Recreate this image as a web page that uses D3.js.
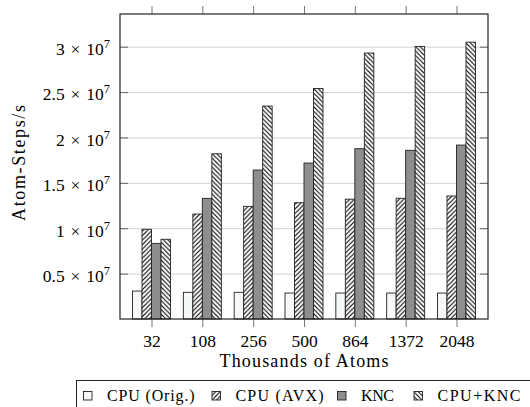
<!DOCTYPE html>
<html>
<head>
<meta charset="utf-8">
<script src="https://cdn.jsdelivr.net/npm/d3@7"></script>
<style>
body { margin: 0; background: #fff; }
</style>
</head>
<body>
<svg id="chart" width="530" height="407"></svg>
<script>
// data
var atoms = ["32", "108", "256", "500", "864", "1372", "2048"];
var cpuOrig = [3.08e6, 2.94e6, 2.94e6, 2.86e6, 2.86e6, 2.86e6, 2.86e6];
var cpuAvx  = [9.88e6, 1.156e7, 1.241e7, 1.281e7, 1.32e7, 1.33e7, 1.355e7];
var knc     = [8.33e6, 1.329e7, 1.641e7, 1.718e7, 1.876e7, 1.858e7, 1.916e7];
var cpuKnc  = [8.78e6, 1.82e7, 2.346e7, 2.54e7, 2.93e7, 3.003e7, 3.05e7];
var seriesNames = ["CPU (Orig.)", "CPU (AVX)", "KNC", "CPU+KNC"];
var yTicks = [0.5e7, 1e7, 1.5e7, 2e7, 2.5e7, 3e7];
var yTickMantissa = ["0.5", "1", "1.5", "2", "2.5", "3"];

var serif = "Liberation Serif";

function renderChart() {
    var left = 120, right = 488, top = 14, bottom = 319;
    var barWidth = 9.5;
    var series = [cpuOrig, cpuAvx, knc, cpuKnc];
    var fills = ["#f6f8f8", "url(#neLines)", "#8e8e8e", "url(#nwLines)"];

    var svg = d3.select("#chart");

    // hatch patterns
    var defs = svg.append("defs");
    var ne = defs.append("pattern").attr("id", "neLines")
        .attr("patternUnits", "userSpaceOnUse").attr("width", 4.5).attr("height", 4.5);
    ne.append("rect").attr("width", 4.5).attr("height", 4.5).attr("fill", "#fff");
    ne.append("path").attr("d", "M-1,1 l2,-2 M0,4.5 l4.5,-4.5 M3.5,5.5 l2,-2")
        .attr("stroke", "#000").attr("stroke-width", 1.1);
    var nw = defs.append("pattern").attr("id", "nwLines")
        .attr("patternUnits", "userSpaceOnUse").attr("width", 4.5).attr("height", 4.5);
    nw.append("rect").attr("width", 4.5).attr("height", 4.5).attr("fill", "#fff");
    nw.append("path").attr("d", "M-1,3.5 l2,2 M0,0 l4.5,4.5 M3.5,-1 l2,2")
        .attr("stroke", "#000").attr("stroke-width", 1.1);

    var x = d3.scaleLinear().domain([-0.62, atoms.length - 1 + 0.62]).range([left, right]);
    var y = d3.scaleLinear().domain([0, 3.36e7]).range([bottom, top]);

    // grid lines
    svg.append("g")
        .attr("transform", "translate(" + left + ",0)")
        .call(d3.axisLeft(y).tickValues(yTicks).tickSize(-(right - left)).tickFormat(""))
        .call(function(g) {
            g.select(".domain").remove();
            g.selectAll("line").attr("stroke", "#d2d2d2").attr("stroke-width", 1);
        });

    // bars
    series.forEach(function(vals, s) {
        svg.append("g").selectAll("rect")
            .data(vals)
            .enter()
            .append("rect")
            .attr("x", function(d, i) { return x(i) + (s - 2) * barWidth; })
            .attr("y", function(d) { return y(d); })
            .attr("width", barWidth)
            .attr("height", function(d) { return y(0) - y(d); })
            .attr("fill", fills[s])
            .attr("stroke", "#222")
            .attr("stroke-width", 0.9);
    });

    // inner y ticks on both sides
    svg.append("g")
        .attr("transform", "translate(" + left + ",0)")
        .call(d3.axisLeft(y).tickValues(yTicks).tickSize(-8).tickFormat(""))
        .call(function(g) {
            g.select(".domain").remove();
            g.selectAll("line").attr("stroke", "#666");
        });
    svg.append("g")
        .attr("transform", "translate(" + right + ",0)")
        .call(d3.axisRight(y).tickValues(yTicks).tickSize(-8).tickFormat(""))
        .call(function(g) {
            g.select(".domain").remove();
            g.selectAll("line").attr("stroke", "#666");
        });

    // x ticks outside, top and bottom
    var xTickVals = d3.range(atoms.length);
    svg.append("g")
        .attr("transform", "translate(0," + bottom + ")")
        .call(d3.axisBottom(x).tickValues(xTickVals).tickSize(8).tickPadding(9)
            .tickFormat(function(i) { return atoms[i]; }))
        .call(function(g) {
            g.attr("font-family", null).attr("font-size", null);
            g.select(".domain").remove();
            g.selectAll("line").attr("stroke", "#777");
            g.selectAll("text")
                .attr("font-family", serif).attr("font-size", 17.5)
                .attr("fill", "#000").attr("dy", null).attr("y", 28);
        });
    svg.append("g")
        .attr("transform", "translate(0," + top + ")")
        .call(d3.axisTop(x).tickValues(xTickVals).tickSize(8).tickFormat(""))
        .call(function(g) {
            g.select(".domain").remove();
            g.selectAll("line").attr("stroke", "#777");
        });

    // y tick labels  m x 10^7
    var lab = svg.append("g").selectAll("text")
        .data(yTicks)
        .enter()
        .append("text")
        .attr("x", 110)
        .attr("y", function(d) { return y(d) + 8.3; })
        .attr("text-anchor", "end")
        .attr("font-family", serif)
        .attr("font-size", 17.5);
    lab.append("tspan").text(function(d, i) { return yTickMantissa[i] + "\u2004\u00d7\u200410"; });
    lab.append("tspan").attr("dy", -7).attr("font-size", 12.5).text("7");

    // frame
    svg.append("rect")
        .attr("x", left).attr("y", top)
        .attr("width", right - left).attr("height", bottom - top)
        .attr("fill", "none").attr("stroke", "#222").attr("stroke-width", 1.2);

    // axis titles
    svg.append("text")
        .attr("x", (left + right) / 2).attr("y", 366.5)
        .attr("text-anchor", "middle")
        .attr("font-family", serif).attr("font-size", 18)
        .attr("textLength", 169).attr("lengthAdjust", "spacing")
        .text("Thousands of Atoms");
    svg.append("text")
        .attr("transform", "translate(25,163) rotate(-90)")
        .attr("text-anchor", "middle")
        .attr("font-family", serif).attr("font-size", 18)
        .attr("textLength", 116).attr("lengthAdjust", "spacing")
        .text("Atom-Steps/s");

    // legend
    var legendX = [83, 211.5, 337, 413.5];
    var legendW = [87.6, 88, 33, 83];
    svg.append("rect")
        .attr("x", 76.5).attr("y", 380.5).attr("width", 470).attr("height", 40)
        .attr("fill", "#fff").attr("stroke", "#222").attr("stroke-width", 1);
    var items = svg.append("g").selectAll("g")
        .data(seriesNames)
        .enter()
        .append("g")
        .attr("transform", function(d, i) { return "translate(" + legendX[i] + ",0)"; });
    items.append("rect")
        .attr("x", 0.5).attr("y", 391.5).attr("width", 8.5).attr("height", 8.5)
        .attr("fill", function(d, i) { return fills[i]; })
        .attr("stroke", "#222").attr("stroke-width", 0.9);
    items.append("text")
        .attr("x", 24).attr("y", 400.5)
        .attr("font-family", serif).attr("font-size", 16)
        .attr("textLength", function(d, i) { return legendW[i]; })
        .attr("lengthAdjust", "spacing")
        .text(function(d) { return d; });
}

window.onload = renderChart;
</script>
</body>
</html>
